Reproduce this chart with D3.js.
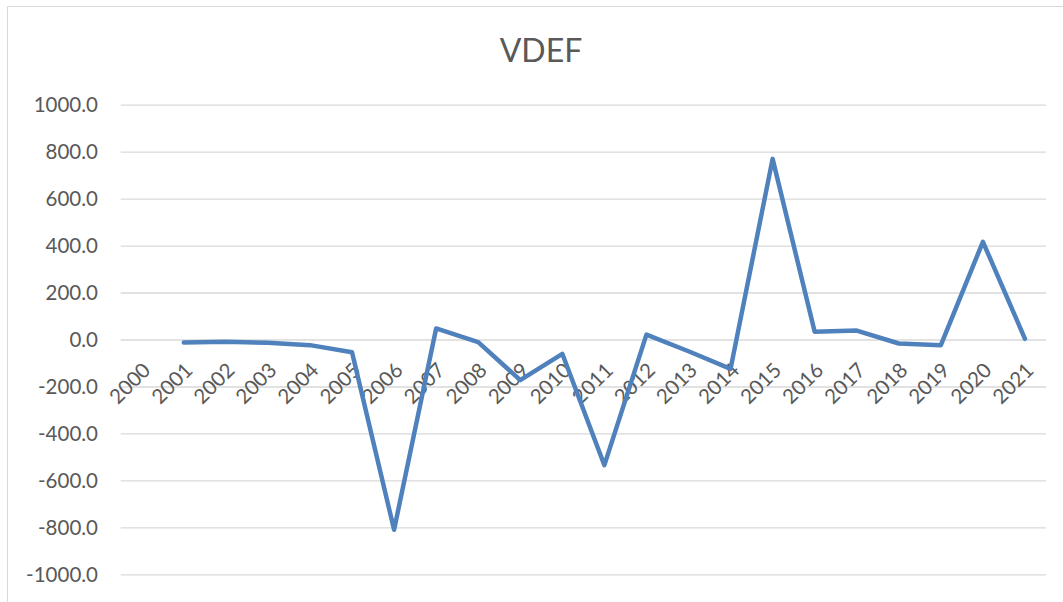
<!DOCTYPE html>
<html>
<head>
<meta charset="utf-8">
<script src="https://cdn.jsdelivr.net/npm/d3@7"></script>
<style>
  body { margin: 0; background: white; }
  text { font-family: Lato, "Open Sans", sans-serif; }
</style>
</head>
<body>
<div id="chart"></div>
<script>
var years = ["2000", "2001", "2002", "2003", "2004", "2005", "2006", "2007", "2008", "2009", "2010",
             "2011", "2012", "2013", "2014", "2015", "2016", "2017", "2018", "2019", "2020", "2021"];

// 2000 has no value in the source sheet
var vdef = [null, -13, -10, -14, -24, -54, -810, 47, -11, -173, -61,
            -535, 21, -50, -125, 769, 33, 38, -17, -24, 416, 3];

var yTicks = [-1000, -800, -600, -400, -200, 0, 200, 400, 600, 800, 1000];

var chartData = [];
for (i = 0; i < years.length; i++) {
    chartData[i] = { x: years[i], y: vdef[i] };
}

const width = 1063;
const height = 602;
const plotLeft = 120.7;
const plotRight = 1046;
const plotTop = 104.6;
const plotBottom = 574.4;

const fmt = d3.formatLocale({ decimal: ".", thousands: ",", grouping: [3], currency: ["", ""], minus: "-" }).format(".1f");

const xScale = d3.scaleBand()
                    .domain(years)
                    .range([plotLeft, plotRight]);

const yScale = d3.scaleLinear()
                    .domain([-1000, 1000])
                    .range([plotBottom, plotTop]);

let svg = d3.select('#chart')
                .append('svg')
                    .attr('width', width)
                    .attr('height', height);

// chart frame
svg.append('rect')
    .attr('x', 7.5)
    .attr('y', 6.5)
    .attr('width', width + 10)
    .attr('height', height + 10)
    .attr('fill', 'white')
    .attr('stroke', '#d9d9d9')
    .attr('stroke-width', 1);

// title
svg.append('text')
    .attr('x', 541)
    .attr('y', 61.5)
    .attr('text-anchor', 'middle')
    .style('fill', '#595959')
    .style('font-size', '32px')
    .text('VDEF');

// gridlines
let grid = svg.append('g')
    .attr('transform', `translate(${plotLeft}, 0)`)
    .call(d3.axisLeft(yScale).tickValues(yTicks).tickSize(-(plotRight - plotLeft)).tickFormat(''));
grid.select('.domain').remove();
grid.selectAll('line')
    .attr('stroke', '#d9d9d9')
    .attr('stroke-width', 1.3);

// y-axis labels
let yAxis = svg.append('g')
    .attr('transform', 'translate(98, 0)')
    .call(d3.axisLeft(yScale).tickValues(yTicks).tickSize(0).tickPadding(0).tickFormat(fmt));
yAxis.select('.domain').remove();
yAxis.selectAll('text')
    .style('fill', '#595959')
    .style('font-size', '20.5px')
    .attr('dy', '0.36em');

// x-axis labels, sitting on the zero line
let xAxis = svg.append('g')
    .attr('transform', `translate(0, ${yScale(0)})`)
    .call(d3.axisBottom(xScale).tickSize(0));
xAxis.select('.domain').remove();
xAxis.selectAll('text')
    .attr('y', 0)
    .attr('dy', 0)
    .attr('text-anchor', 'end')
    .attr('transform', 'translate(10, 32) rotate(-45)')
    .style('fill', '#595959')
    .style('font-size', '20.5px');

// series line
svg.append('path')
    .datum(chartData)
    .attr('fill', 'none')
    .attr('stroke', '#4f81bd')
    .attr('stroke-width', 4.5)
    .attr('stroke-linejoin', 'round')
    .attr('stroke-linecap', 'round')
    .attr('d', d3.line()
        .defined((d) => d.y !== null)
        .x((d) => xScale(d.x) + xScale.bandwidth() / 2)
        .y((d) => yScale(d.y))
    );
</script>
</body>
</html>
